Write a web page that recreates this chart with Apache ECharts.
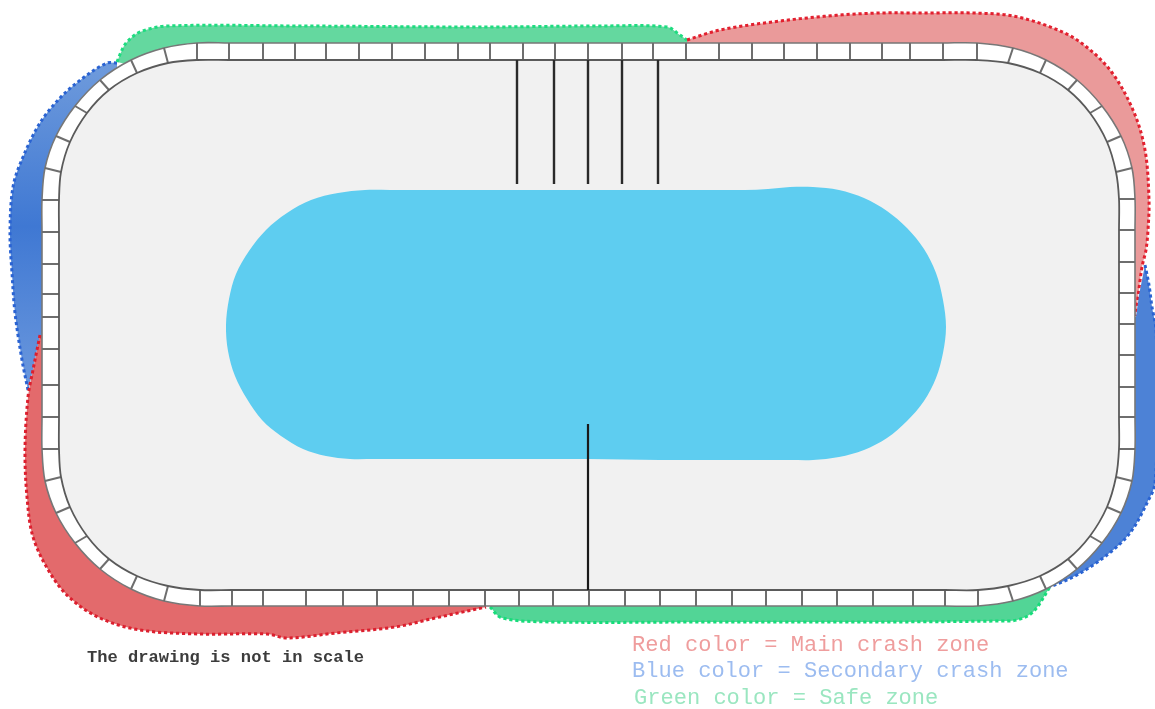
<!DOCTYPE html>
<html>
<head>
<meta charset="utf-8">
<style>
html,body{margin:0;padding:0;background:#fff;}
#c{width:1155px;height:709px;filter:blur(0.5px);}
</style>
<script src="https://cdn.jsdelivr.net/npm/echarts@6/dist/echarts.min.js"></script>
</head>
<body>
<div id="c"></div>
<script>
// Crash-zone outlines (drawing units)
const redTopOuter = [[687,40],[720,30],[780,21],[840,15],[880,13],[923,13],[973,13],[1013,16],[1053,28],[1080,42],[1110,70],[1133,110],[1145,150],[1149,200],[1148,230],[1146,250],[1142,267],[1138,297],[1136,316]];
const redTopInner = [[1127,316],[1127,200],[1115,140],[1090,100],[1060,72],[1020,55],[977,50],[687,50]];
const redLowOuter = [[40,335],[33,370],[28,397],[25,450],[27,497],[33,537],[50,573],[70,598],[100,618],[140,630],[200,634],[267,634],[287,638],[336,633],[395,627],[435,618],[486,607]];
const redLowInner = [[486,597],[197,598],[165,595],[135,583],[105,565],[85,542],[65,515],[52,483],[50,450],[50,335]];
const blueLeftOuter = [[117,63],[107,63],[83,78],[60,98],[40,123],[23,157],[13,187],[10,233],[12,273],[15,313],[22,360],[28,390]];
const blueLeftInner = [[33,370],[40,335],[50,335],[50,200],[53,167],[65,136],[83,107],[105,82],[117,70]];
const blueRightOuter = [[1145,265],[1149,285],[1152,307],[1156,330],[1157,400],[1155,483],[1147,503],[1130,533],[1107,555],[1077,575],[1050,587]];
const blueRightInner = [[1050,580],[1071,565],[1095,541],[1113,514],[1123,482],[1127,450],[1127,317],[1136,317],[1139,295]];
const greenTopOuter = [[117,62],[122,50],[127,42],[140,32],[167,26],[300,26],[480,27],[600,26],[667,27],[680,35],[687,40]];
const greenTopInner = [[687,50],[400,50],[170,55],[135,66]];
const greenLowOuter = [[490,607],[502,618],[553,622],[700,622],[880,622],[1000,621],[1017,620],[1033,612],[1050,587]];
const greenLowInner = [[1010,593],[880,598],[490,598]];

// Wall cell divisions
const topTickX = [197,229,263,295,326,359,392,425,458,490,523,555,588,622,653,686,719,752,784,817,850,882,910,943,977];
const rightTickY = [199,230,262,293,324,355,387,417,449];
const bottomTickX = [978,945,913,873,837,802,766,732,696,660,625,589,553,519,485,449,413,377,343,306,263,232,200];
const leftTickY = [449,417,385,349,317,294,264,232,200];
const cornerTopRight = [[1013,48,1008,63],[1046,60,1040,73],[1077,80,1068,90],[1102,106,1090,113],[1121,136,1107,142],[1132,168,1116,172]];
const cornerBottomRight = [[1132,481,1116,477],[1121,513,1107,507],[1102,543,1090,536],[1077,569,1068,559],[1046,589,1040,576],[1013,601,1008,586]];
const cornerBottomLeft = [[164,601,168,586],[131,589,137,576],[100,569,109,559],[75,543,87,536],[56,513,70,507],[45,481,61,477]];
const cornerTopLeft = [[45,168,61,172],[56,136,70,142],[75,106,87,113],[100,80,109,90],[131,60,137,73],[164,48,168,63]];
const wallTop = [43,60], wallBottom = [606,590], wallLeft = [42,59], wallRight = [1135,1119];

// Island and timing lines
const poolOutline = [[390,190],[365,190],[338,193],[311,200],[287,213],[266,230],[249,251],[236,274],[229,299],[226,325],[228,351],[235,376],[247,399],[262,420],[281,436],[303,449],[326,456],[350,459],[375,459],[420,459],[500,459],[588,459],[660,460],[740,460],[790,460],[813,460],[839,457],[864,450],[887,438],[907,421],[924,401],[936,378],[943,353],[946,327],[943,300],[936,273],[924,249],[907,228],[887,211],[864,198],[839,190],[813,187],[790,187],[768,189],[745,190],[690,190],[610,190],[530,190],[450,190]];
const upperLineX = [517,554,588,622,658];
const upperLineY = [60,184];
const lowerLineX = [588];
const lowerLineY = [424,590];

// Texts
const noteLabel = ['The drawing is not in scale', 87, 658];
const legendLabels = [
  ['Red color = Main crash zone', 632, 645, '#ef9d9d'],
  ['Blue color = Secondary crash zone', 632, 671, '#9cbcf0'],
  ['Green color = Safe zone', 634, 698, '#9ae6c0']
];

const wallTicks = [].concat(
  topTickX.map(x => [x, wallTop[0], x, wallTop[1]]),
  cornerTopRight,
  rightTickY.map(y => [wallRight[0], y, wallRight[1], y]),
  cornerBottomRight,
  bottomTickX.map(x => [x, wallBottom[0], x, wallBottom[1]]),
  cornerBottomLeft,
  leftTickY.map(y => [wallLeft[0], y, wallLeft[1], y]),
  cornerTopLeft
);
const wallOuter = wallTicks.map(t => [t[0], t[1]]);
const wallInner = wallTicks.map(t => [t[2], t[3]]);

const vGrad = stops => ({type:'linear',x:0,y:0,x2:0,y2:1,colorStops:stops.map((c,i)=>({offset:i/(stops.length-1),color:c}))});
const layers = [];
function zone(outer, inner, fill, stroke){
  layers.push({curve:outer, tail:inner, closed:false, fillPath:true, fill});
  layers.push({curve:outer, closed:false, stroke, width:3, dash:[3.2,2.8]});
}
zone(blueLeftOuter, blueLeftInner, vGrad(['#6f9bdc','#3f78d3','#6b98dd']), '#2a63d2');
zone(redLowOuter, redLowInner, '#e36a6c', '#dc1f2e');
zone(greenTopOuter, greenTopInner, '#64d89f', '#1fdc80');
zone(redTopOuter, redTopInner, '#ea9a9a', '#e2202f');
zone(blueRightOuter, blueRightInner, '#4d82d6', '#2a63d2');
zone(greenLowOuter, greenLowInner, '#52d596', '#17dc7a');
layers.push({curve:wallOuter, closed:true, fillPath:true, fill:'#ffffff', stroke:'#777777', width:1.6});
wallTicks.forEach(t => layers.push({curve:[[t[0],t[1]],[t[2],t[3]]], closed:false, stroke:'#6e6e6e', width:2}));
layers.push({curve:wallInner, closed:true, fillPath:true, fill:'#f1f1f1', stroke:'#5a5a5a', width:1.8});
layers.push({curve:poolOutline, closed:true, fillPath:true, fill:'#5ecdf0'});
upperLineX.forEach(x => layers.push({curve:[[x,upperLineY[0]],[x,upperLineY[1]]], closed:false, stroke:'#2a2a2a', width:2.4}));
lowerLineX.forEach(x => layers.push({curve:[[x,lowerLineY[0]],[x,lowerLineY[1]]], closed:false, stroke:'#1a1a1a', width:2.2}));
layers.push({text:noteLabel[0], x:noteLabel[1], y:noteLabel[2], fill:'#3c3c3c', font:'bold 17.1px "Liberation Mono"'});
legendLabels.forEach(l => layers.push({text:l[0], x:l[1], y:l[2], fill:l[3], font:'22.05px "Liberation Mono"'}));

// Bezier path through points, with handles along the neighbours' chord
function curvePath(p, closed){
  const n = p.length;
  const at = i => closed ? p[(i+n)%n] : p[Math.max(0,Math.min(n-1,i))];
  const dir = i => {
    const a = at(i-1), b = at(i+1);
    const dx = b[0]-a[0], dy = b[1]-a[1], l = Math.hypot(dx,dy)||1;
    return [dx/l, dy/l];
  };
  let d = 'M'+p[0][0]+' '+p[0][1];
  const segs = closed ? n : n-1;
  for(let i=0;i<segs;i++){
    const a = at(i), b = at(i+1);
    const len = Math.hypot(b[0]-a[0],b[1]-a[1])/3;
    const da = dir(i), db = dir(i+1);
    d += ' C'+(a[0]+da[0]*len)+' '+(a[1]+da[1]*len)+' '+(b[0]-db[0]*len)+' '+(b[1]-db[1]*len)+' '+b[0]+' '+b[1];
  }
  return d;
}

const chart = echarts.init(document.getElementById('c'), null, {renderer:'canvas'});
chart.setOption({
  animation:false,
  backgroundColor:'#ffffff',
  grid:{left:0,right:0,top:0,bottom:0},
  xAxis:{type:'value',min:0,max:1155,show:false},
  yAxis:{type:'value',min:0,max:709,inverse:true,show:false},
  tooltip:{show:false},
  series:[{
    type:'custom',
    coordinateSystem:'cartesian2d',
    silent:true,
    clip:true,
    data:layers.map((_,i)=>[i,i]),
    renderItem:function(params,api){
      const l = layers[params.dataIndex];
      if(l.text){
        const p = api.coord([l.x,l.y]);
        return {type:'text',style:{x:p[0],y:p[1],text:l.text,fill:l.fill,font:l.font,textAlign:'left',textVerticalAlign:'middle'}};
      }
      let d = curvePath(l.curve.map(p=>api.coord(p)), l.closed);
      if(l.tail){
        l.tail.forEach(q => { const c = api.coord(q); d += ' L'+c[0]+' '+c[1]; });
        d += ' Z';
      }
      if(l.closed) d += ' Z';
      return {
        type:'path',
        shape:{pathData:d},
        style:{
          fill:l.fillPath?l.fill:null,
          stroke:l.stroke||null,
          lineWidth:l.width||0,
          lineDash:l.dash||null
        }
      };
    }
  }]
});
</script>
</body>
</html>
